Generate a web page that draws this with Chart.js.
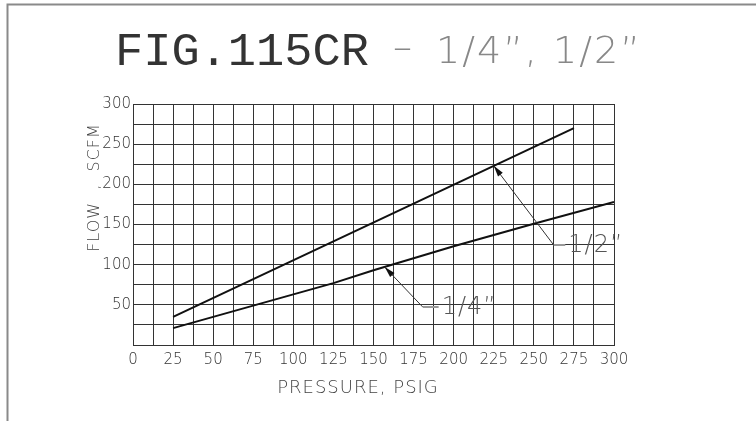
<!DOCTYPE html>
<html>
<head>
<meta charset="utf-8">
<script src="https://cdn.jsdelivr.net/npm/chart.js@4.4.1/dist/chart.umd.min.js"></script>
<style>
  html, body { margin: 0; padding: 0; background: #fff; }
  #wrap { width: 756px; height: 421px; position: relative; }
</style>
</head>
<body>
<div id="wrap"><canvas id="myChart"></canvas></div>
<script>
// values
const pressureHalf = [25, 75, 125, 175, 225, 275];
const flowHalf = [35, 82, 129, 176, 223, 270];
const pressureQuarter = [25, 50, 75, 100, 125, 150, 200, 250, 300];
const flowQuarter = [21, 35, 49, 63, 77, 93, 123, 151, 178];

const seriesNames = ['1/2\u201D', '1/4\u201D'];
// callouts: arrow tip on the curve, elbow of leader, label start (data units)
const calloutTipX = [225, 157];
const calloutTipY = [223, 97];
const calloutElbowX = [262.4, 180.7];
const calloutElbowY = [124.5, 47.3];
const calloutTextX = [271.5, 192.5];

const xMin = 0, xMax = 300, xGridStep = 12.5, xLabelStep = 25;
const yMin = 0, yMax = 300, yGridStep = 25, yLabelStep = 50;

const titleMain = 'FIG.115CR';
const titleSizes = '1/4\u201D, 1/2\u201D';
const xTitle = 'PRESSURE, PSIG';
const yTitle = 'FLOW  ,  SCFM';

const thin = '"DejaVu Sans"';

function toPoints(xs, ys) {
    return xs.map((x, i) => ({ x: x, y: ys[i] }));
}

function arrowHead(c, fromX, fromY, toX, toY) {
    const a = Math.atan2(toY - fromY, toX - fromX);
    const len = 11, w = 3;
    c.beginPath();
    c.moveTo(toX, toY);
    c.lineTo(toX - len * Math.cos(a) + w * Math.sin(a), toY - len * Math.sin(a) - w * Math.cos(a));
    c.lineTo(toX - len * Math.cos(a) - w * Math.sin(a), toY - len * Math.sin(a) + w * Math.cos(a));
    c.closePath();
    c.fill();
}

const drawing = {
    id: 'drawing',
    afterDraw(chart) {
        const c = chart.ctx;
        const xs = chart.scales.x, ys = chart.scales.y;
        c.save();

        // sheet frame (top and left)
        c.strokeStyle = '#8a8a8a';
        c.lineWidth = 2;
        c.beginPath();
        c.moveTo(7.5, 421);
        c.lineTo(7.5, 4.5);
        c.lineTo(756, 4.5);
        c.stroke();

        // main title
        c.fillStyle = '#333';
        c.textBaseline = 'alphabetic';
        c.textAlign = 'left';
        c.font = '47px "Liberation Mono"';
        c.fillText(titleMain, 115, 65);

        c.fillStyle = '#888';
        c.font = '200 38px ' + thin;
        c.fillText('\u2013', 393, 60);
        c.letterSpacing = '2px';
        c.fillText(titleSizes, 436, 63);
        c.letterSpacing = '0px';

        // axis titles
        c.fillStyle = '#444';
        c.font = '200 18px ' + thin;
        c.letterSpacing = '1px';
        c.textAlign = 'center';
        c.fillText(xTitle, 358, 393);
        c.save();
        c.translate(99, 187.5);
        c.rotate(-Math.PI / 2);
        c.font = '200 16px ' + thin;
        c.fillText(yTitle, 0, 0);
        c.restore();
        c.letterSpacing = '0px';

        // callouts
        for (let i = 0; i < seriesNames.length; i++) {
            const tx = xs.getPixelForValue(calloutTipX[i]);
            const ty = ys.getPixelForValue(calloutTipY[i]);
            const ex = xs.getPixelForValue(calloutElbowX[i]);
            const ey = ys.getPixelForValue(calloutElbowY[i]);
            const lx = xs.getPixelForValue(calloutTextX[i]);
            c.strokeStyle = '#333';
            c.lineWidth = 1;
            c.beginPath();
            c.moveTo(ex, ey);
            c.lineTo(tx, ty);
            c.stroke();
            c.fillStyle = '#111';
            arrowHead(c, ex, ey, tx, ty);
            c.strokeStyle = '#999';
            c.lineWidth = 2;
            c.beginPath();
            c.moveTo(ex, ey);
            c.lineTo(lx - 3, ey);
            c.stroke();
            c.fillStyle = '#555';
            c.font = '200 24px ' + thin;
            c.textAlign = 'left';
            c.textBaseline = 'middle';
            c.letterSpacing = '1px';
            c.fillText(seriesNames[i], lx, ey + 1);
            c.letterSpacing = '0px';
        }
        c.restore();
    }
};

const ctx = document.getElementById('myChart').getContext('2d');
const myChart = new Chart(ctx, {
    type: 'line',
    data: {
        datasets: [
            {
                label: seriesNames[0],
                data: toPoints(pressureHalf, flowHalf),
                borderColor: '#111',
                borderWidth: 2,
                pointRadius: 0,
                tension: 0
            },
            {
                label: seriesNames[1],
                data: toPoints(pressureQuarter, flowQuarter),
                borderColor: '#111',
                borderWidth: 2,
                pointRadius: 0,
                tension: 0
            }
        ]
    },
    options: {
        animation: false,
        responsive: true,
        maintainAspectRatio: false,
        layout: { padding: { left: 0, right: 142, top: 104, bottom: 0 } },
        plugins: {
            legend: { display: false },
            tooltip: { enabled: false }
        },
        scales: {
            x: {
                type: 'linear',
                min: xMin,
                max: xMax,
                afterFit: (s) => { s.height = 76; },
                grid: { color: '#333', lineWidth: 1, drawTicks: false },
                border: { color: '#333', width: 1 },
                ticks: {
                    stepSize: xGridStep,
                    autoSkip: false,
                    maxRotation: 0,
                    padding: 6,
                    color: '#333',
                    font: { family: thin, size: 15, weight: 200 },
                    callback: (v) => (v % xLabelStep === 0 ? String(v) : '')
                }
            },
            y: {
                min: yMin,
                max: yMax,
                afterFit: (s) => { s.width = 133; },
                grid: { color: '#333', lineWidth: 1, drawTicks: false },
                border: { color: '#333', width: 1 },
                ticks: {
                    stepSize: yGridStep,
                    autoSkip: false,
                    padding: 2,
                    color: '#333',
                    font: { family: thin, size: 15, weight: 200 },
                    callback: (v) => (v % yLabelStep === 0 && v > 0 ? String(v) : '')
                }
            }
        }
    },
    plugins: [drawing]
});
</script>
</body>
</html>
